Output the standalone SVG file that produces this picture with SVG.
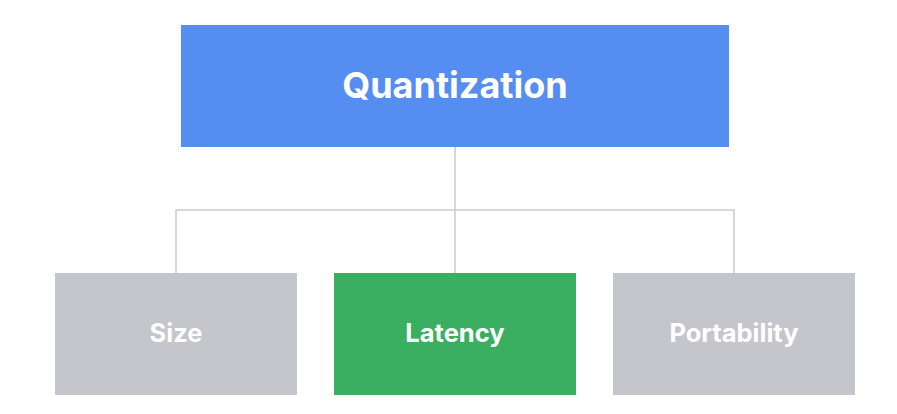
<svg xmlns="http://www.w3.org/2000/svg" width="897" height="414" viewBox="0 0 897 414">
<style>
.lbl{font-family:Inter,"Open Sans","Liberation Sans",sans-serif;font-weight:700;fill:#ffffff;text-anchor:middle}
.sm{font-size:25.5px}
.conn{fill:none;stroke:#cccccc;stroke-width:1.6}
</style>
<rect width="897" height="414" fill="#ffffff"/>
<g id="connectors">
<path class="conn" d="M455 147 V273 M176 273 V210 H734 V273"/>
</g>
<g id="quantization">
<rect x="181" y="25" width="548" height="122" fill="#558ef0"/>
<text class="lbl" x="455" y="98" font-size="36">Quantization</text>
</g>
<g id="size">
<rect x="55" y="273" width="242" height="122" fill="#c4c6cb"/>
<text class="lbl sm" x="176" y="342">Size</text>
</g>
<g id="latency">
<rect x="334" y="273" width="242" height="122" fill="#3aaf62"/>
<text class="lbl sm" x="455" y="342">Latency</text>
</g>
<g id="portability">
<rect x="613" y="273" width="242" height="122" fill="#c4c6cb"/>
<text class="lbl sm" x="734" y="342">Portability</text>
</g>
</svg>
